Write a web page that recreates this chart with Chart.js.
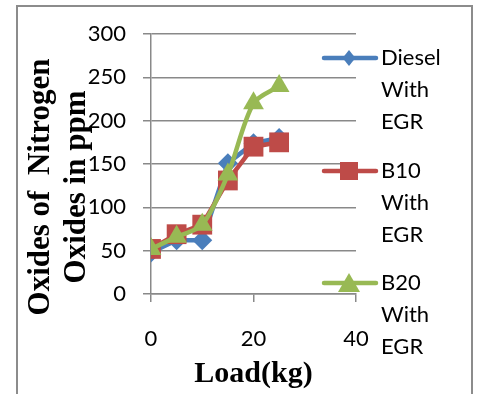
<!DOCTYPE html>
<html>
<head>
<meta charset="utf-8">
<script src="https://cdn.jsdelivr.net/npm/chart.js@4/dist/chart.umd.min.js"></script>
<style>
  html, body { margin: 0; padding: 0; background: #fff; }
  #wrap { position: relative; width: 477px; height: 394px; }
</style>
</head>
<body>
<div id="wrap"><canvas id="noxChart" width="477" height="394"></canvas></div>
<script>
// chart values
const loads = [0, 5, 10, 15, 20, 25];
const diesel = [48, 62, 62, 151, 174, 180];
const b10 = [52, 69, 80, 131, 170, 175];
const b20 = [52, 66, 80, 138, 220, 240];
const seriesNames = [["Diesel", "With", "EGR"], ["B10", "With", "EGR"], ["B20", "With", "EGR"]];
const yTitle = ["Oxides of  Nitrogen", "Oxides in ppm"];
const xTitle = "Load(kg)";

const blue = "#4a7ebb";
const red = "#be4b48";
const green = "#98b954";
const gridGray = "#898989";

function toPoints(ys) {
  return loads.map((x, i) => ({ x: x, y: ys[i] }));
}

function marker(ctx, style, x, y, r, color) {
  ctx.save();
  ctx.fillStyle = color;
  ctx.beginPath();
  if (style === "rectRot") {
    ctx.moveTo(x, y - r); ctx.lineTo(x + r * 0.8, y); ctx.lineTo(x, y + r); ctx.lineTo(x - r * 0.8, y);
  } else if (style === "rect") {
    ctx.rect(x - r, y - r, 2 * r, 2 * r);
  } else {
    ctx.moveTo(x, y - r); ctx.lineTo(x + r * 1.1, y + r * 0.9); ctx.lineTo(x - r * 1.1, y + r * 0.9);
  }
  ctx.closePath();
  ctx.fill();
  ctx.restore();
}

// frame, rotated y title and the wrapped legend on the right
const extras = {
  id: "extras",
  beforeDraw(chart) {
    const ctx = chart.ctx;
    ctx.save();
    ctx.strokeStyle = "#8c8c8c";
    ctx.lineWidth = 2;
    ctx.strokeRect(17, 6, 455, 400);
    ctx.restore();
  },
  afterDraw(chart) {
    const ctx = chart.ctx;
    ctx.save();
    ctx.fillStyle = "#000";
    ctx.font = "bold 31px 'Liberation Serif'";
    ctx.textAlign = "center";
    ctx.textBaseline = "alphabetic";
    const cols = [49, 85];
    yTitle.forEach((t, i) => {
      ctx.save();
      ctx.translate(cols[i], 187);
      ctx.rotate(-Math.PI / 2);
      ctx.fillText(t, 0, 0);
      ctx.restore();
    });
    ctx.restore();

    const rows = [58, 171, 283];
    const sizes = [8, 9, 10];
    chart.data.datasets.forEach((ds, i) => {
      const y = rows[i];
      ctx.save();
      ctx.strokeStyle = ds.borderColor;
      ctx.lineWidth = 4.5;
      ctx.lineCap = "round";
      ctx.beginPath();
      ctx.moveTo(324, y);
      ctx.lineTo(376, y);
      ctx.stroke();
      ctx.restore();
      marker(ctx, ds.pointStyle, 349, y, sizes[i], ds.borderColor);
      ctx.save();
      ctx.fillStyle = "#000";
      ctx.font = "22px Lato";
      ctx.textAlign = "left";
      ctx.textBaseline = "middle";
      seriesNames[i].forEach((line, j) => ctx.fillText(line, 381, y + j * 32));
      ctx.restore();
    });
  }
};

new Chart(document.getElementById("noxChart"), {
  type: "line",
  data: {
    datasets: [
      {
        label: seriesNames[0].join(" "),
        data: toPoints(diesel),
        borderColor: blue,
        backgroundColor: blue,
        borderWidth: 4.5,
        pointStyle: "rectRot",
        pointRadius: 10,
        pointBorderWidth: 0,
        tension: 0,
        order: 2
      },
      {
        label: seriesNames[1].join(" "),
        data: toPoints(b10),
        borderColor: red,
        backgroundColor: red,
        borderWidth: 4.5,
        pointStyle: "rect",
        pointRadius: 14,
        pointBorderWidth: 0,
        tension: 0,
        order: 1
      },
      {
        label: seriesNames[2].join(" "),
        data: toPoints(b20),
        borderColor: green,
        backgroundColor: green,
        borderWidth: 4.5,
        pointStyle: "triangle",
        pointRadius: 12,
        pointBorderWidth: 0,
        tension: 0.3,
        order: 0
      }
    ]
  },
  options: {
    responsive: false,
    animation: false,
    layout: { padding: { top: 34, right: 121, left: 0, bottom: 0 } },
    plugins: {
      legend: { display: false },
      tooltip: { enabled: false }
    },
    scales: {
      x: {
        type: "linear",
        min: 0,
        max: 40,
        ticks: { stepSize: 20, color: "#000", font: { family: "Lato", size: 22 }, padding: 24, maxRotation: 0 },
        grid: { drawOnChartArea: false, drawTicks: true, tickLength: 8, color: gridGray, lineWidth: 1.5 },
        border: { display: true, color: gridGray, width: 1.5 },
        title: { display: true, text: xTitle, color: "#000", font: { family: "Liberation Serif", size: 30, weight: "bold" }, padding: { top: 0, bottom: 2 } },
        afterFit(scale) { scale.height = 100; }
      },
      y: {
        min: 0,
        max: 300,
        ticks: { stepSize: 50, color: "#000", font: { family: "Lato", size: 22 }, padding: 17 },
        grid: { drawTicks: true, tickLength: 8, color: gridGray, lineWidth: 1.5 },
        border: { display: true, color: gridGray, width: 1.5 },
        afterFit(scale) { scale.width = 151; }
      }
    }
  },
  plugins: [extras]
});
</script>
</body>
</html>
